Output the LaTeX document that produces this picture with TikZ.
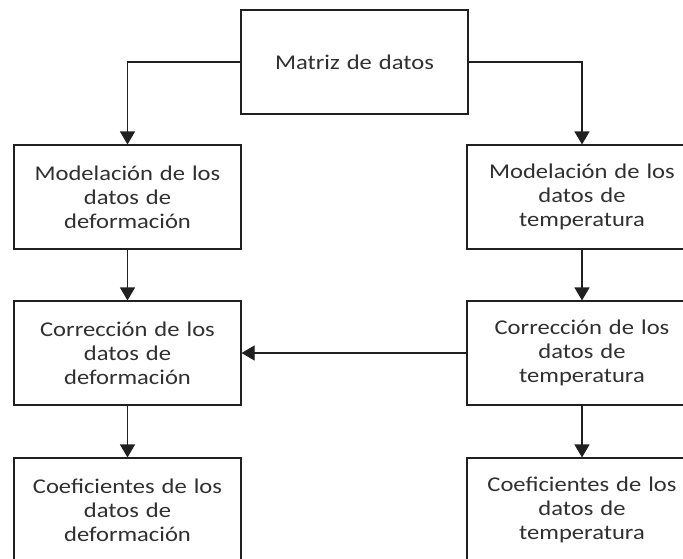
\documentclass[tikz,border=0pt]{standalone}
\usepackage{fontspec}
\setmainfont{Carlito}[FakeStretch=1.17]
\usetikzlibrary{arrows.meta}
\definecolor{txt}{HTML}{303030}
\definecolor{ln}{HTML}{202020}
\tikzset{
  box/.style={draw=ln, line width=1.1pt, fill=white, minimum height=104pt, text width=215pt, align=center, inner sep=0pt, text=txt, font=\fontsize{21}{24}\selectfont},
  lbox/.style={box, minimum width=227pt},
  rbox/.style={box, minimum width=230pt},
  conn/.style={draw=ln, line width=1.1pt, -{Triangle[width=15pt,length=13pt]}},
}
\begin{document}
\begin{tikzpicture}[x=1pt,y=-1pt]
\useasboundingbox (0,0) rectangle (683,558);
\clip (0,0) rectangle (683,558);
\node[lbox] (top) at (354.5,62) {Matriz de datos};
\node[lbox] (ml) at (127.5,197) {Modelación de los\\datos de\\deformación};
\node[rbox] (mr) at (582,197) {Modelación de los\\datos de\\temperatura};
\node[lbox] (cl) at (127.5,353) {Corrección de los\\datos de\\deformación};
\node[rbox] (cr) at (582,353) {Corrección de los\\datos de\\temperatura};
\node[lbox] (bl) at (127.5,510) {Coeficientes de los\\datos de\\deformación};
\node[rbox] (br) at (582,510) {Coeficientes de los\\datos de\\temperatura};
\draw[conn] (top.west) -| (ml.north);
\draw[conn] (top.east) -| (mr.north);
\draw[conn] (ml.south) -- (cl.north);
\draw[conn] (mr.south) -- (cr.north);
\draw[conn] (cl.south) -- (bl.north);
\draw[conn] (cr.south) -- (br.north);
\draw[conn] (cr.west) -- (cl.east);
\end{tikzpicture}
\end{document}
